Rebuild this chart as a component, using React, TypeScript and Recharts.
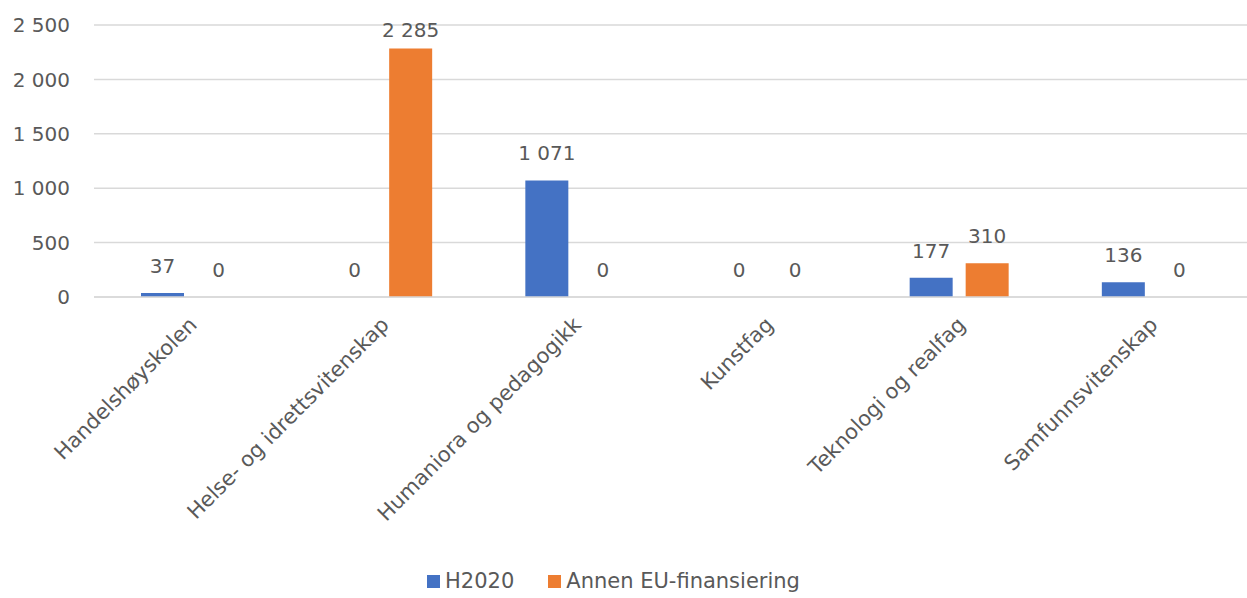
import React from 'react';
import { BarChart, Bar, XAxis, YAxis, CartesianGrid, Legend, LabelList } from 'recharts';

const categories = [
  'Handelshøyskolen',
  'Helse- og idrettsvitenskap',
  'Humaniora og pedagogikk',
  'Kunstfag',
  'Teknologi og realfag',
  'Samfunnsvitenskap',
];
const h2020 = [37, 0, 1071, 0, 177, 136];
const annenEU = [0, 2285, 0, 0, 310, 0];
const yTicks = [0, 500, 1000, 1500, 2000, 2500];
const seriesNames = ['H2020', 'Annen EU-finansiering'];
const colors = ['#4472C4', '#ED7D31'];

const data = categories.map((c, i) => ({ name: c, h2020: h2020[i], annen: annenEU[i] }));

const FONT = '"DejaVu Sans", sans-serif';
const TEXT = '#595959';
const fmt = (v: any) => String(v).replace(/\B(?=(\d{3})+(?!\d))/g, ' ');
const minSize = (v: any) => (v === 0 ? 0.01 : 0);

const ValueLabel = (props: any) => {
  const { x, y, width, value } = props;
  const by = Math.max(Number(y) - 20, 37);
  return (
    <text x={Number(x) + Number(width) / 2} y={by} textAnchor="middle" fill={TEXT} fontSize={20} fontFamily={FONT}>
      {fmt(value)}
    </text>
  );
};

const XTick = (props: any) => {
  const { x, y, payload } = props;
  const tx = x + 8;
  const ty = y + 21;
  return (
    <text
      x={tx}
      y={ty}
      transform={`rotate(-45, ${tx}, ${ty})`}
      textAnchor="end"
      fill={TEXT}
      fontSize={21}
      fontFamily={FONT}
    >
      {payload.value}
    </text>
  );
};

const LegendContent = () => (
  <div style={{ display: 'flex', justifyContent: 'center', alignItems: 'center', fontFamily: FONT, fontSize: 21, color: TEXT, paddingRight: 20, paddingTop: 2 }}>
    {seriesNames.map((n, i) => (
      <div key={n} style={{ display: 'flex', alignItems: 'center', marginRight: i === 0 ? 34 : 0 }}>
        <div style={{ width: 13, height: 13, background: colors[i], marginRight: 5 }} />
        <span>{n}</span>
      </div>
    ))}
  </div>
);

export default function App() {
  return (
    <div style={{ position: 'absolute', left: 0, top: 0, background: '#fff' }}>
      <BarChart
        width={1247}
        height={598}
        data={data}
        margin={{ top: 25, right: 0, left: 0, bottom: 5 }}
        barSize={43}
        barGap={13}
      >
        <CartesianGrid vertical={false} stroke="#d9d9d9" strokeWidth={1.5} />
        <XAxis
          dataKey="name"
          interval={0}
          tickLine={false}
          axisLine={{ stroke: '#d9d9d9', strokeWidth: 1.5 }}
          tick={<XTick />}
          height={270}
        />
        <YAxis
          width={94}
          domain={[0, 2500]}
          ticks={yTicks}
          tickFormatter={fmt}
          axisLine={false}
          tickLine={false}
          tickSize={0}
          tickMargin={24}
          tick={{ fill: TEXT, fontSize: 20, fontFamily: FONT }}
        />
        <Legend verticalAlign="bottom" content={<LegendContent />} />
        <Bar dataKey="h2020" name={seriesNames[0]} fill={colors[0]} minPointSize={minSize} isAnimationActive={false}>
          <LabelList dataKey="h2020" content={<ValueLabel />} />
        </Bar>
        <Bar dataKey="annen" name={seriesNames[1]} fill={colors[1]} minPointSize={minSize} isAnimationActive={false}>
          <LabelList dataKey="annen" content={<ValueLabel />} />
        </Bar>
      </BarChart>
    </div>
  );
}
